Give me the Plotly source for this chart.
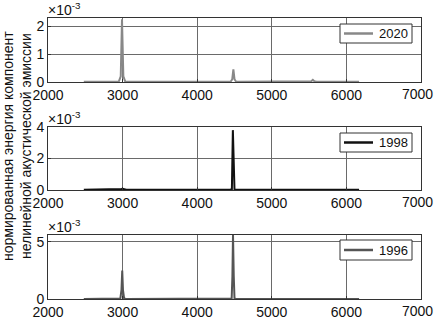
import plotly.graph_objects as go

# ---- data ----
freq_2020 = [2480, 2900, 2950, 2975, 2992, 3010, 3035, 3080, 4400, 4450, 4470, 4485, 4500, 4520, 4560, 5500, 5530, 5550, 5570, 5600, 6170]
vals_2020 = [0.00001, 0.00001, 0.00002, 0.0002, 0.00225, 0.0002, 0.00002, 0.00001, 0.00001, 0.00002, 0.0001, 0.00045, 0.0001, 0.00002, 0.00001, 0.00001, 0.00003, 0.00008, 0.00003, 0.00001, 0.00001]

freq_1998 = [2480, 2950, 2985, 3000, 3015, 3050, 4440, 4465, 4478, 4490, 4500, 4525, 5930, 5960, 5990, 6170]
vals_1998 = [0.00002, 0.00002, 0.00006, 0.00008, 0.00006, 0.00002, 0.00002, 0.00005, 0.0038, 0.00005, 0.00002, 0.00001, 0.00001, 0.00005, 0.00001, 0.00001]

freq_1996 = [2480, 2940, 2970, 2985, 2995, 3005, 3020, 3050, 4440, 4462, 4472, 4480, 4490, 4500, 4520, 5970, 6000, 6030, 6170]
vals_1996 = [0.00001, 0.00001, 0.00005, 0.0008, 0.0025, 0.0008, 0.00005, 0.00001, 0.00001, 0.00005, 0.002, 0.0056, 0.002, 0.00005, 0.00001, 0.00001, 0.00005, 0.00001, 0.00001]

x_ticks = [2000, 3000, 4000, 5000, 6000, 7000]
y_ticks_top = [0, 0.001, 0.002]
y_ticks_mid = [0, 0.002, 0.004]
y_ticks_bot = [0, 0.005]

series = [
    ("2020", freq_2020, vals_2020, "#888888", 0.0023, y_ticks_top),
    ("1998", freq_1998, vals_1998, "#111111", 0.004, y_ticks_mid),
    ("1996", freq_1996, vals_1996, "#555555", 0.0056, y_ticks_bot),
]

W, H = 436, 319
X0, X1 = 48, 421
panels_px = [(18, 82), (127, 190), (235, 299)]
legend_px = [(340, 24, 412, 43), (340, 133, 412, 152), (340, 240, 412, 260)]

FONT = "Liberation Sans, Arial, sans-serif"
TICK = 14
fig = go.Figure()
layout = dict(
    width=W, height=H, margin=dict(l=0, r=0, t=0, b=0, autoexpand=False),
    paper_bgcolor="white", plot_bgcolor="white",
    showlegend=False, font=dict(family=FONT, size=13, color="#111"),
)
annotations = []
shapes = []
for i, (name, fx, fy, col, ymax, yt) in enumerate(series):
    xa = "x" if i == 0 else f"x{i+1}"
    ya = "y" if i == 0 else f"y{i+1}"
    fig.add_trace(go.Scatter(x=fx, y=fy, mode="lines", name=name,
                             line=dict(color=col, width=2), xaxis=xa, yaxis=ya))
    top, bot = panels_px[i]
    xkey = "xaxis" if i == 0 else f"xaxis{i+1}"
    ykey = "yaxis" if i == 0 else f"yaxis{i+1}"
    layout[xkey] = dict(
        domain=[X0 / W, X1 / W], range=[2000, 7000], anchor=ya, automargin=False,
        tickvals=x_ticks[:-1], ticktext=[str(v) for v in x_ticks[:-1]],
        showgrid=True, gridcolor="#6a6a6a", gridwidth=1,
        showline=True, linecolor="#333", linewidth=1, mirror=True,
        ticks="inside", ticklen=3, tickcolor="#333", zeroline=False,
        tickfont=dict(size=TICK, family=FONT, color="#111"),
    )
    layout[ykey] = dict(
        domain=[1 - bot / H, 1 - top / H], range=[0, ymax], anchor=xa, automargin=False,
        tickvals=yt, ticktext=[f"{round(v*1000):d}" for v in yt],
        showgrid=True, gridcolor="#6a6a6a", gridwidth=1,
        showline=True, linecolor="#333", linewidth=1, mirror=True,
        ticks="inside", ticklen=3, tickcolor="#333", zeroline=False,
        tickfont=dict(size=TICK, family=FONT, color="#111"),
    )
    # last x tick label (annotation so it is not dropped at the page edge)
    annotations.append(dict(
        x=435 / W, xref="paper", y=1 - (bot + 12) / H, yref="paper",
        xanchor="right", yanchor="middle", showarrow=False,
        text=str(x_ticks[-1]), font=dict(size=TICK, family=FONT, color="#111"),
    ))
    # exponent label
    annotations.append(dict(
        x=(X0 - 2) / W, y=1 - (top - 9) / H, xref="paper", yref="paper",
        xanchor="left", yanchor="middle", showarrow=False,
        text="×10<sup>-3</sup>", font=dict(size=14, family=FONT, color="#111"),
    ))
    # legend box
    lx0, ly0, lx1, ly1 = legend_px[i]
    shapes.append(dict(type="rect", xref="paper", yref="paper",
                       x0=lx0 / W, x1=lx1 / W, y0=1 - ly1 / H, y1=1 - ly0 / H,
                       line=dict(color="#333", width=1), fillcolor="white", layer="above"))
    ymid = (ly0 + ly1) / 2
    shapes.append(dict(type="line", xref="paper", yref="paper",
                       x0=(lx0 + 4) / W, x1=(lx0 + 33) / W, y0=1 - ymid / H, y1=1 - ymid / H,
                       line=dict(color=col, width=2.5), layer="above"))
    annotations.append(dict(
        x=(lx1 - 2) / W, y=1 - ymid / H, xref="paper", yref="paper",
        xanchor="right", yanchor="middle", showarrow=False,
        text=name, font=dict(size=13, family=FONT, color="#111"),
    ))

annotations.append(dict(
    x=17 / W, y=1 - 146 / H, xref="paper", yref="paper",
    xanchor="center", yanchor="middle", showarrow=False, textangle=-90,
    text="нормированная энергия компонент<br>нелинейной акустической эмиссии",
    font=dict(size=14, family=FONT, color="#111"),
))
layout["annotations"] = annotations
layout["shapes"] = shapes
fig.update_layout(**layout)
fig.write_html(
    "out.html",
    config={"displayModeBar": False},
    post_script="document.body.style.margin='0';document.body.style.overflow='hidden';",
)
